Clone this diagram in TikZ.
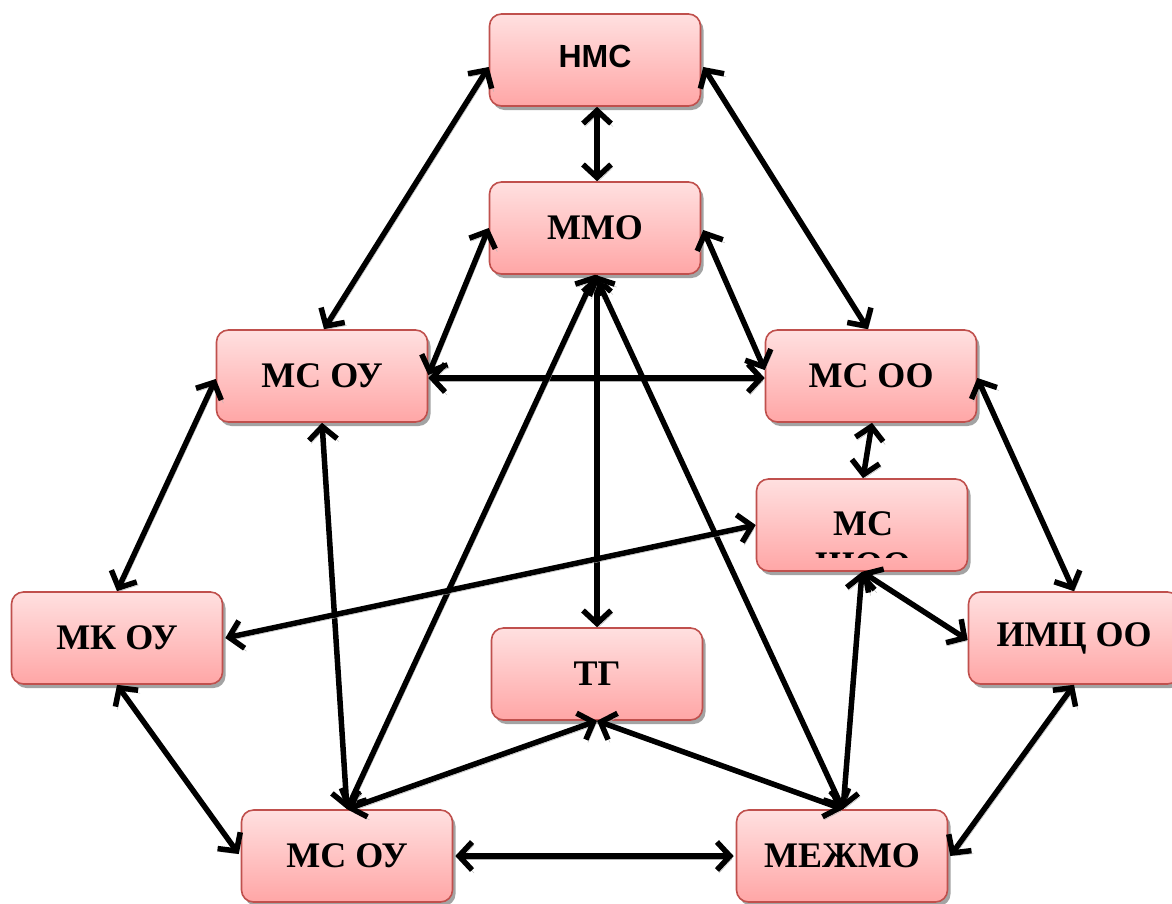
\documentclass[tikz,border=0pt]{standalone}
\usepackage{fontspec}
\setmainfont{Liberation Serif}
\newfontfamily\sansb{Liberation Sans}
\usetikzlibrary{arrows.meta,shadows}
\definecolor{boxline}{HTML}{C0504D}
\definecolor{boxtop}{RGB}{255,224,224}
\definecolor{boxbot}{RGB}{255,166,166}
\tikzset{
  box/.style={draw=boxline, line width=1.6pt, rounded corners=12pt,
    top color=boxtop, bottom color=boxbot,
    minimum width=211pt, minimum height=92pt, inner sep=0pt,
    font=\fontsize{36}{41}\selectfont\bfseries,
    drop shadow={shadow xshift=3pt, shadow yshift=-4pt, fill=black!45, opacity=0.8}},
  txt/.style={font=\fontsize{36}{41}\selectfont\bfseries, inner sep=0pt},
  link/.style={<->, line width=5.5pt, black,
    >={Straight Barb[length=13pt,width=28pt]},
    preaction={draw=black!30, transform canvas={shift={(2pt,-3pt)}}}}
}
\begin{document}
\begin{tikzpicture}[x=1pt,y=-1pt]
\clip (0,0) rectangle (1172,903);
\fill[white] (0,0) rectangle (1172,903);
% boxes
\node[box] (nms) at (595,60) {\raisebox{7pt}{\sansb\fontsize{32}{36}\selectfont\bfseries НМС}};
\node[box] (mmo) at (595,228) {ММО};
\node[box] (msou1) at (322,376) {МС ОУ};
\node[box] (msoo) at (871,376) {МС ОО};
\node[box] (mssho) at (862,525) {};
\begin{scope}
\clip ([xshift=8pt]mssho.north west) rectangle ([xshift=-8pt,yshift=14pt]mssho.south east);
\node[txt, anchor=base] (msshoA) at (863,535) {МС};
\node[txt, anchor=base] (msshoB) at (863,576) {ШОО};
\end{scope}
\node[box] (mkou) at (117,638) {МК ОУ};
\node[box] (tg) at (597,674) {ТГ};
\node[box] (imc) at (1074,638) {ИМЦ ОО};
\node[box] (msou2) at (347,856) {МС ОУ};
\node[box] (mezh) at (842,856) {МЕЖМО};
% connectors
\draw[link] ([yshift=-7pt]nms.west) -- ([xshift=2pt]msou1.north);
\draw[link] ([xshift=2pt]nms.south) -- ([xshift=2pt]mmo.north);
\draw[link] ([yshift=-7pt,xshift=2pt]nms.east) -- ([xshift=-3pt]msoo.north);
\draw[link] (mmo.west) -- ([yshift=1pt]msou1.east);
\draw[link] ([xshift=2pt,yshift=-2pt]mmo.east) -- ([yshift=6pt]msoo.west);
\draw[link] ([yshift=-2pt]msou1.east) -- ([yshift=-2pt]msoo.west);
\draw[link] ([xshift=2pt]mmo.south) -- ([xshift=0pt]tg.north);
\draw[link] (mmo.south) -- (msou2.north);
\draw[link] (mmo.south) -- ([xshift=1pt]mezh.north);
\draw[link] (msou1.south) -- (msou2.north);
\draw[link] ([yshift=-3pt]msou1.west) -- (mkou.north);
\draw[link] ([xshift=1pt]msoo.south) -- ([xshift=1pt]mssho.north);
\draw[link] ([yshift=-2pt]msoo.east) -- (imc.north);
\draw[link] (mssho.west) -- ([xshift=2pt]mkou.east);
\draw[link] (mssho.south) -- ([yshift=-2pt]imc.west);
\draw[link] (mssho.south) -- ([xshift=1pt]mezh.north);
\draw[link] (tg.south) -- (msou2.north);
\draw[link] (tg.south) -- ([xshift=1pt]mezh.north);
\draw[link] (mkou.south) -- ([xshift=-2pt,yshift=2pt]msou2.west);
\draw[link] (imc.south) -- ([xshift=2pt]mezh.east);
\draw[link] ([xshift=2pt]msou2.east) -- ([xshift=-2pt]mezh.west);
\end{tikzpicture}
\end{document}
